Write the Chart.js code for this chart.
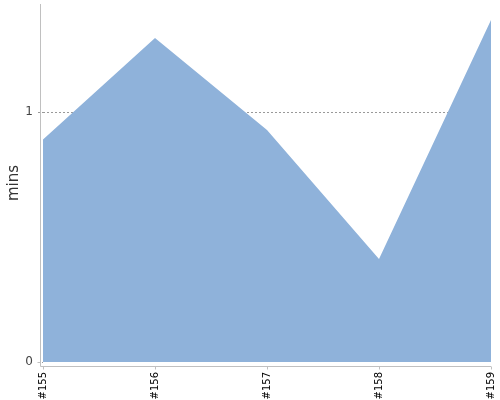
<!DOCTYPE html>
<html><head><meta charset="utf-8">
<script src="https://cdn.jsdelivr.net/npm/chart.js@4/dist/chart.umd.min.js"></script>
<style>html,body{margin:0;padding:0;background:#fff}#w{width:500px;height:400px}</style>
</head><body><div id="w"><canvas id="c"></canvas></div>
<script>
const categories = ['#155', '#156', '#157', '#158', '#159'];
const minsValues = [0.89, 1.296, 0.928, 0.412, 1.368];
const yTickValues = [0, 1];
const yAxisTitle = 'mins';

const axisLines = {
  id: 'axisLines',
  afterDatasetsDraw(chart) {
    const {ctx, chartArea: a} = chart;
    ctx.save();
    ctx.strokeStyle = '#c0c0c0';
    ctx.lineWidth = 1;
    const xl = Math.round(a.left) - 3 + 0.5;
    const yb = Math.round(a.bottom) + 4 + 0.5;
    ctx.beginPath();
    ctx.moveTo(xl, a.top); ctx.lineTo(xl, yb);
    ctx.moveTo(xl, yb); ctx.lineTo(a.right, yb);
    const xs = chart.scales.x;
    xs.ticks.forEach((t, i) => {
      const px = Math.round(xs.getPixelForTick(i)) + 0.5;
      ctx.moveTo(px, yb); ctx.lineTo(px, yb + 3);
    });
    const ys = chart.scales.y;
    const py = Math.round(ys.getPixelForValue(0)) + 0.5;
    ctx.moveTo(xl - 3, py); ctx.lineTo(xl, py);
    ctx.stroke();
    ctx.restore();
  }
};

new Chart(document.getElementById('c'), {
  type: 'line',
  data: {
    labels: categories,
    datasets: [{
      data: minsValues,
      fill: 'origin',
      backgroundColor: 'rgb(143,178,218)',
      borderWidth: 0,
      borderColor: 'rgba(0,0,0,0)',
      pointRadius: 0,
      tension: 0
    }]
  },
  options: {
    responsive: true,
    maintainAspectRatio: false,
    animation: false,
    layout: {padding: {top: 4, right: 9, left: 0, bottom: 0}},
    plugins: {legend: {display: false}, tooltip: {enabled: false}},
    scales: {
      x: {
        offset: false,
        grid: {display: false, drawTicks: false},
        border: {display: false},
        afterFit(s) { s.height = 38; s.paddingLeft = 0; s.paddingRight = 0; },
        ticks: {
          minRotation: 90, maxRotation: 90, autoSkip: false,
          color: '#000', padding: 10,
          font: {family: 'DejaVu Sans', size: 10}
        }
      },
      y: {
        min: 0, max: 1.432,
        afterBuildTicks(s) { s.ticks = yTickValues.map(v => ({value: v})); },
        afterFit(s) { s.width = 43; s.paddingTop = 0; s.paddingBottom = 0; },
        border: {display: false, dash: [2, 2]},
        grid: {
          color: c => (c.tick && c.tick.value === 0) ? 'rgba(0,0,0,0)' : '#999',
          lineWidth: 1,
          drawTicks: true, tickLength: 5, tickColor: '#999',
          tickBorderDash: [2, 2]
        },
        ticks: {color: '#444', padding: 5, font: {family: 'DejaVu Sans', size: 12}},
        title: {display: true, text: yAxisTitle, color: '#333', padding: {top: 5, bottom: 0},
          font: {family: 'DejaVu Sans', size: 15}}
      }
    }
  },
  plugins: [axisLines]
});
</script></body></html>
